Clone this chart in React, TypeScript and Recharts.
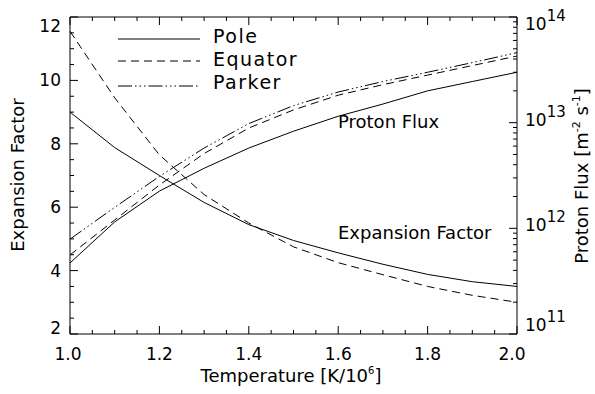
import React from 'react'
import { ComposedChart, Line, XAxis, YAxis } from 'recharts'

// temperature in units of 10^6 K
const temperature = [1.0, 1.1, 1.2, 1.3, 1.4, 1.5, 1.6, 1.7, 1.8, 1.9, 2.0]
const poleExpansion = [9.0, 7.88, 7.0, 6.15, 5.45, 4.95, 4.56, 4.2, 3.88, 3.65, 3.5]
const equatorExpansion = [11.55, 9.45, 7.65, 6.4, 5.5, 4.75, 4.25, 3.87, 3.5, 3.22, 3.0]
// proton flux in m^-2 s^-1
const poleFlux = [4.7e11, 1.15e12, 2.25e12, 3.7e12, 5.75e12, 8.3e12, 1.15e13, 1.5e13, 2.0e13, 2.45e13, 3.0e13]
const equatorFlux = [5.6e11, 1.2e12, 2.57e12, 5.1e12, 8.9e12, 1.32e13, 1.82e13, 2.29e13, 2.82e13, 3.47e13, 4.27e13]
const parkerFlux = [7.9e11, 1.58e12, 3.1e12, 5.75e12, 9.8e12, 1.45e13, 1.95e13, 2.45e13, 3.0e13, 3.7e13, 4.6e13]

const xTicks = [1.0, 1.05, 1.1, 1.15, 1.2, 1.25, 1.3, 1.35, 1.4, 1.45, 1.5, 1.55, 1.6, 1.65, 1.7, 1.75, 1.8, 1.85, 1.9, 1.95, 2.0]
const expansionTicks = [2, 2.5, 3, 3.5, 4, 4.5, 5, 5.5, 6, 6.5, 7, 7.5, 8, 8.5, 9, 9.5, 10, 10.5, 11, 11.5, 12]
const fluxDecades = [11, 12, 13, 14]
const fluxMantissas = [1, 2, 3, 4, 5, 6, 7, 8, 9]
const fluxTicks = fluxDecades
  .slice(0, -1)
  .flatMap((e) => fluxMantissas.map((m) => m * 10 ** e))
  .concat([1e14])

const legendItems = [
  { name: 'Pole', dash: undefined, lineY: 39, textY: 43 },
  { name: 'Equator', dash: '8 5', lineY: 61, textY: 66 },
  { name: 'Parker', dash: '14 3 1.5 3 1.5 3 1.5 3', lineY: 86, textY: 89 },
]

const data = temperature.map((t, i) => ({
  t,
  poleE: poleExpansion[i],
  eqE: equatorExpansion[i],
  poleF: poleFlux[i],
  eqF: equatorFlux[i],
  parkerF: parkerFlux[i],
}))

const FONT = 'DejaVu Sans'
const LW = 1

const isMultiple = (v: number, step: number) => Math.abs(v / step - Math.round(v / step)) < 1e-6

function BottomTick({ x, y, payload }: any) {
  const v = payload.value
  const major = isMultiple(v, 0.2)
  let dx = 0
  if (v > 1.99) dx = -5
  if (v < 1.01) dx = -2
  return (
    <g>
      <line x1={x} y1={y} x2={x} y2={y - (major ? 8 : 4)} stroke="#000" />
      {major && (
        <text x={x + dx} y={y + 26} textAnchor="middle" fontSize={17} fill="#000" fontFamily={FONT}>
          {v.toFixed(1)}
        </text>
      )}
    </g>
  )
}

function TopTick({ x, y, payload }: any) {
  const major = isMultiple(payload.value, 0.2)
  return <line x1={x} y1={y} x2={x} y2={y + (major ? 8 : 4)} stroke="#000" />
}

function LeftTick({ x, y, payload }: any) {
  const v = payload.value
  const major = isMultiple(v, 2)
  let base = y + 6
  if (v === 12) base = y + 15
  if (v === 2) base = y
  return (
    <g>
      <line x1={x} y1={y} x2={x + (major ? 8 : 4)} y2={y} stroke="#000" />
      {major && (
        <text x={x - 9} y={base} textAnchor="end" fontSize={17} fill="#000" fontFamily={FONT}>
          {v}
        </text>
      )}
    </g>
  )
}

function RightTick({ x, y, payload }: any) {
  const exp = Math.log10(payload.value)
  const major = isMultiple(exp, 1)
  const e = Math.round(exp)
  let base = y + 3
  if (e === 14) base = y + 13
  if (e === 11) base = y - 3
  return (
    <g>
      <line x1={x} y1={y} x2={x - (major ? 8 : 4)} y2={y} stroke="#000" />
      {major && (
        <text x={x + 8} y={base} fontSize={17} fill="#000" fontFamily={FONT}>
          10
          <tspan dy={-9} fontSize={15}>{e}</tspan>
        </text>
      )}
    </g>
  )
}

export default function App() {
  return (
    <div style={{ position: 'absolute', left: 0, top: 0, width: 595, height: 394, background: '#fff' }}>
      <ComposedChart
        width={595}
        height={394}
        data={data}
        margin={{ top: 0, right: 0, bottom: 0, left: 0 }}
        style={{ fontFamily: FONT }}
      >
        <XAxis
          xAxisId="bottom"
          dataKey="t"
          type="number"
          domain={[1, 2]}
          ticks={xTicks}
          interval={0}
          height={60}
          stroke="#000"
          tickLine={false}
          tickSize={0}
          tickMargin={0}
          tick={<BottomTick />}
        />
        <XAxis
          xAxisId="top"
          orientation="top"
          dataKey="t"
          type="number"
          domain={[1, 2]}
          ticks={xTicks}
          interval={0}
          height={17}
          stroke="#000"
          tickLine={false}
          tickSize={0}
          tickMargin={0}
          tick={<TopTick />}
        />
        <YAxis
          yAxisId="exp"
          type="number"
          domain={[2, 12]}
          ticks={expansionTicks}
          interval={0}
          width={70}
          stroke="#000"
          tickLine={false}
          tickSize={0}
          tickMargin={0}
          tick={<LeftTick />}
          allowDataOverflow
        />
        <YAxis
          yAxisId="flux"
          orientation="right"
          type="number"
          scale="log"
          domain={[1e11, 1e14]}
          ticks={fluxTicks}
          interval={0}
          width={78}
          stroke="#000"
          tickLine={false}
          tickSize={0}
          tickMargin={0}
          tick={<RightTick />}
          allowDataOverflow
        />
        <Line xAxisId="bottom" yAxisId="exp" dataKey="poleE" type="linear" stroke="#000" strokeWidth={LW} dot={false} isAnimationActive={false} />
        <Line xAxisId="bottom" yAxisId="exp" dataKey="eqE" type="linear" stroke="#000" strokeWidth={LW} strokeDasharray="8 5" dot={false} isAnimationActive={false} />
        <Line xAxisId="bottom" yAxisId="flux" dataKey="poleF" type="linear" stroke="#000" strokeWidth={LW} dot={false} isAnimationActive={false} />
        <Line xAxisId="bottom" yAxisId="flux" dataKey="eqF" type="linear" stroke="#000" strokeWidth={LW} strokeDasharray="8 5" dot={false} isAnimationActive={false} />
        <Line xAxisId="bottom" yAxisId="flux" dataKey="parkerF" type="linear" stroke="#000" strokeWidth={LW} strokeDasharray="14 3 1.5 3 1.5 3 1.5 3" dot={false} isAnimationActive={false} />

        {/* legend */}
        {legendItems.map((item) => (
          <g key={item.name}>
            <line x1={118} x2={200} y1={item.lineY} y2={item.lineY} stroke="#000" strokeWidth={LW} strokeDasharray={item.dash} />
            <text x={213} y={item.textY} fontSize={19} letterSpacing={1.5} fill="#000" fontFamily={FONT}>{item.name}</text>
          </g>
        ))}

        {/* curve annotations */}
        <text x={338} y={128} fontSize={18} fill="#000" fontFamily={FONT}>Proton Flux</text>
        <text x={338} y={239} fontSize={18} fill="#000" fontFamily={FONT}>Expansion Factor</text>

        {/* axis titles */}
        <text x={291} y={382} textAnchor="middle" fontSize={18} fill="#000" fontFamily={FONT}>
          Temperature [K/10<tspan dy={-8} fontSize={10}>6</tspan><tspan dy={8}>]</tspan>
        </text>
        <text x={24} y={175} textAnchor="middle" fontSize={18} fill="#000" fontFamily={FONT} transform="rotate(-90, 24, 175)">
          Expansion Factor
        </text>
        <text x={588} y={176} textAnchor="middle" fontSize={18} fill="#000" fontFamily={FONT} transform="rotate(-90, 588, 176)">
          Proton Flux  [m<tspan dy={-8} fontSize={11}>-2</tspan><tspan dy={8}> s</tspan><tspan dy={-8} fontSize={11}>-1</tspan><tspan dy={8}>]</tspan>
        </text>
      </ComposedChart>
    </div>
  )
}
